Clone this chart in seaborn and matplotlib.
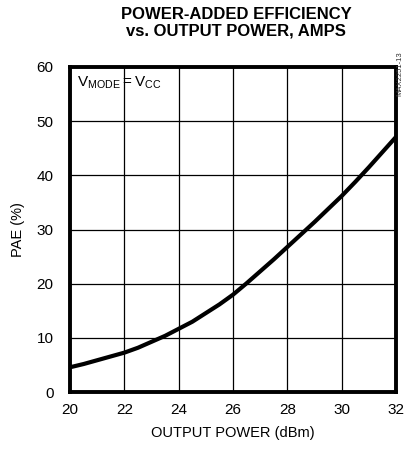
import matplotlib
matplotlib.use("Agg")
import matplotlib.pyplot as plt
import seaborn as sns
import pandas as pd

# data (every 0.5 dBm)
out_power = [20, 20.5, 21, 21.5, 22, 22.5, 23, 23.5, 24, 24.5, 25, 25.5, 26,
             26.5, 27, 27.5, 28, 28.5, 29, 29.5, 30, 30.5, 31, 31.5, 32]
pae = [4.6, 5.2, 5.9, 6.6, 7.3, 8.2, 9.3, 10.4, 11.7, 13.0, 14.6, 16.2, 18.0,
       20.1, 22.3, 24.5, 26.8, 29.1, 31.4, 33.8, 36.2, 38.8, 41.5, 44.3, 47.1]

x_ticks = [20, 22, 24, 26, 28, 30, 32]
y_ticks = [0, 10, 20, 30, 40, 50, 60]

df = pd.DataFrame({"power": out_power, "pae": pae})

sns.set_style("white")
plt.rcParams['font.family'] = ['Liberation Sans', 'DejaVu Sans']
plt.rcParams['mathtext.fontset'] = 'custom'
plt.rcParams['mathtext.rm'] = 'Liberation Sans'
plt.rcParams['text.color'] = 'black'
plt.rcParams['axes.labelcolor'] = 'black'
plt.rcParams['xtick.color'] = 'black'
plt.rcParams['ytick.color'] = 'black'

fig = plt.figure(figsize=(4.05, 4.55), dpi=100)
ax = fig.add_axes([0.173, 0.138, 0.805, 0.715])

sns.lineplot(data=df, x="power", y="pae", ax=ax, color="black", linewidth=3)

ax.set_xlim(20, 32)
ax.set_ylim(0, 60)
ax.set_xticks(x_ticks)
ax.set_yticks(y_ticks)
ax.grid(True, color="black", linewidth=0.9)
for s in ax.spines.values():
    s.set_linewidth(2.8)
    s.set_color("black")
ax.tick_params(axis="x", length=0, labelsize=11, pad=8)
ax.tick_params(axis="y", length=0, labelsize=11, pad=12)
ax.set_xlabel("OUTPUT POWER (dBm)", fontsize=10.5, labelpad=6)
ax.set_ylabel("PAE (%)", fontsize=10.5, labelpad=8)

ax.text(0.022, 0.975, r"$\mathregular{V_{MODE} = V_{CC}}$", transform=ax.transAxes,
        fontsize=11, va="top", ha="left")

fig.text(0.583, 0.985, "POWER-ADDED EFFICIENCY\nvs. OUTPUT POWER, AMPS",
         ha="center", va="top", fontsize=12, fontweight="bold", linespacing=1.15)
fig.text(0.997, 0.888, "MAX2251-13", rotation=90, ha="right", va="top", fontsize=5.5,
         color="#333333")

fig.savefig("out.png", dpi=100)
